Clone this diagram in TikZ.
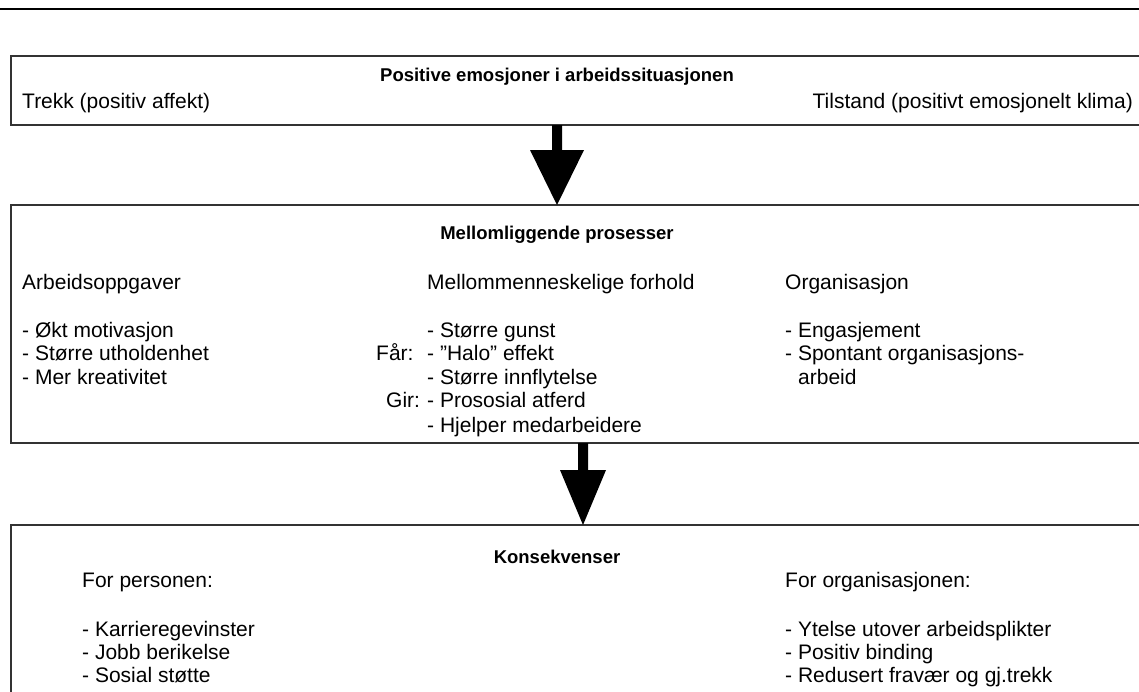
\documentclass[tikz,border=0pt]{standalone}
\usepackage{fontspec}
\setmainfont{Liberation Sans}
\usetikzlibrary{calc}
\begin{document}
\begin{tikzpicture}[x=1pt,y=-1pt,
  box/.style={draw=black!80,line width=1.3pt},
  txt/.style={anchor=base west,inner sep=0pt,font=\fontsize{21}{24}\selectfont},
  ttl/.style={anchor=base,inner sep=0pt,font=\fontsize{18.5}{21}\selectfont\bfseries},
  bigarrow/.style={fill=black}]
\useasboundingbox (0,0) rectangle (1139,691);
\draw[line width=2pt] (0,9) -- (1139,9);
% boxes (extend past the right edge)
\coordinate (b1nw) at (11,56);
\coordinate (b1se) at (1160,125);
\coordinate (b2nw) at (11,205);
\coordinate (b2se) at (1160,443);
\coordinate (b3nw) at (11,525);
\coordinate (b3se) at (1160,720);
\draw[box] (1160,56) -- (b1nw) |- (b1se);
\draw[box] (1160,205) -- (b2nw) |- (b2se);
\draw[box] (1160,525) -- (b3nw) -- (11,720);
% box 1
\node[ttl] (t1) at (557,81) {Positive emosjoner i arbeidssituasjonen};
\node[txt] (trekk) at (22,108) {Trekk (positiv affekt)};
\node[txt,anchor=base east] (tilstand) at (1133,108) {Tilstand (positivt emosjonelt klima)};
% arrow 1
\coordinate (a1top) at (557,125);
\coordinate (a1tip) at (557,205);
\fill[bigarrow] ($(a1top)+(-5,0)$) -- ($(a1top)+(5,0)$) -- ($(a1top)+(5,25)$) -- ($(a1top)+(27,25)$)
  -- (a1tip) -- ($(a1top)+(-27,25)$) -- ($(a1top)+(-5,25)$) -- cycle;
% box 2
\node[ttl] (t2) at (557,239) {Mellomliggende prosesser};
\node[txt] (arb) at (22,289) {Arbeidsoppgaver};
\node[txt] (mell) at (427,289) {Mellommenneskelige forhold};
\node[txt] (org) at (785,289) {Organisasjon};
\node[txt] (a1) at (22,337) {- Økt motivasjon};
\node[txt] (a2) at (22,360) {- Større utholdenhet};
\node[txt] (a3) at (22,384) {- Mer kreativitet};
\node[txt] (m1) at (427,337) {- Større gunst};
\node[txt] (m2) at (427,360) {- ”Halo” effekt};
\node[txt] (m3) at (427,384) {- Større innflytelse};
\node[txt] (m4) at (427,407) {- Prososial atferd};
\node[txt] (m5) at (427,432) {- Hjelper medarbeidere};
\node[txt] (far) at (376,360) {Får:};
\node[txt] (gir) at (386,407) {Gir:};
\node[txt] (o1) at (785,337) {- Engasjement};
\node[txt] (o2) at (785,360) {- Spontant organisasjons-};
\node[txt] (o3) at (798,384) {arbeid};
% arrow 2
\coordinate (a2top) at (583,443);
\coordinate (a2tip) at (583,525);
\fill[bigarrow] ($(a2top)+(-5,0)$) -- ($(a2top)+(5,0)$) -- ($(a2top)+(5,27)$) -- ($(a2top)+(23,27)$)
  -- (a2tip) -- ($(a2top)+(-23,27)$) -- ($(a2top)+(-5,27)$) -- cycle;
% box 3
\node[ttl] (t3) at (557,563) {Konsekvenser};
\node[txt] (fp) at (82,587) {For personen:};
\node[txt] (p1) at (82,636) {- Karrieregevinster};
\node[txt] (p2) at (82,659) {- Jobb berikelse};
\node[txt] (p3) at (82,682) {- Sosial støtte};
\node[txt] (fo) at (785,587) {For organisasjonen:};
\node[txt] (q1) at (785,636) {- Ytelse utover arbeidsplikter};
\node[txt] (q2) at (785,659) {- Positiv binding};
\node[txt] (q3) at (785,682) {- Redusert fravær og gj.trekk};
\end{tikzpicture}
\end{document}
